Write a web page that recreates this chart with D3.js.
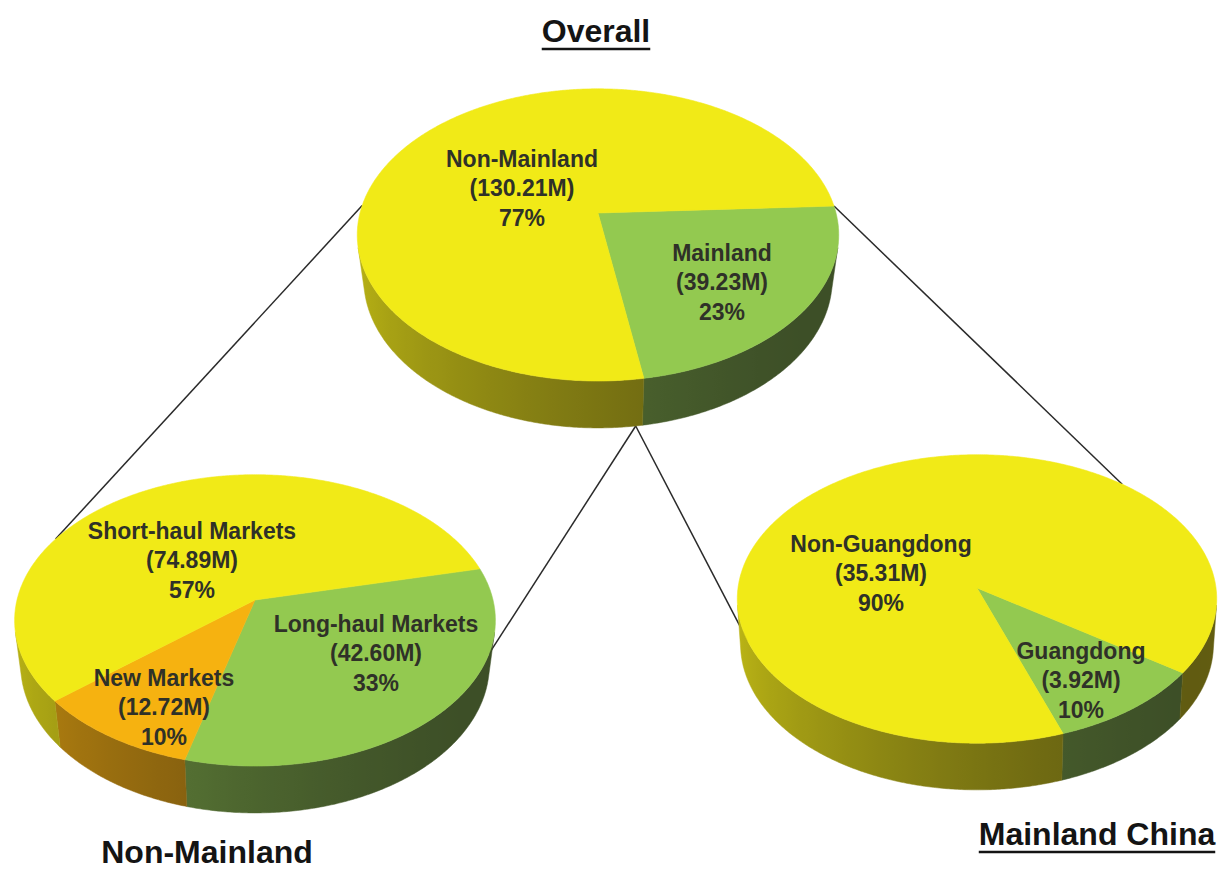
<!DOCTYPE html>
<html><head><meta charset="utf-8">
<script src="https://cdn.jsdelivr.net/npm/d3@7"></script>
<style>body{margin:0;background:#fff}</style>
</head><body>
<svg id="chart" width="1222" height="869"></svg>
<script>
// ---------------- data ----------------
const overallCategories = ["Mainland", "Non-Mainland"];
const overallValues = [39.23, 130.21];
const overallPercents = ["23%", "77%"];

const nonMainlandCategories = ["Long-haul Markets", "New Markets", "Short-haul Markets"];
const nonMainlandValues = [42.60, 12.72, 74.89];
const nonMainlandPercents = ["33%", "10%", "57%"];

const mainlandCategories = ["Guangdong", "Non-Guangdong"];
const mainlandValues = [3.92, 35.31];
const mainlandPercents = ["10%", "90%"];

const chartTitles = ["Overall", "Non-Mainland", "Mainland China"];

// ---------------- style / layout ----------------
const YELLOW = "#f1ea17", GREEN = "#93c950", ORANGE = "#f6b210";
const sinT = 0.6, cosT = 0.8, depth = 0.24;
const deg = Math.PI / 180;

const pies = [
  { cats: overallCategories, vals: overallValues, pcts: overallPercents,
    colors: [GREEN, YELLOW], start: -2.8, cx: 598, cy: 213, rx: 238, k: 0.15,
    labels: [[124, 69], [-76, -25]] },
  { cats: nonMainlandCategories, vals: nonMainlandValues, pcts: nonMainlandPercents,
    colors: [GREEN, ORANGE, YELLOW], start: -13, cx: 255, cy: 600, rx: 238, k: 0.14,
    labels: [[121, 53], [-91, 107], [-63, -40]] },
  { cats: mainlandCategories, vals: mainlandValues, pcts: mainlandPercents,
    colors: [GREEN, YELLOW], start: 34.5, cx: 977, cy: 588, rx: 239, k: 0.076,
    labels: [[104, 92], [-96, -15]] }
];

// connectors: [pieIndex, phi(deg), level(0 top / 1 bottom)]
const connectors = [
  [[0, 183, 0], [1, 207, 0]],
  [[0, 82, 1], [1, 21, 0]],
  [[0, 82, 1], [2, 159, 0]],
  [[0, -2.8, 0], [2, -50, 0]]
];

const svg = d3.select("#chart");
const defs = svg.append("defs");

function proj(p, X, Z, Yh) {
  const Dn = cosT / p.k, F = p.rx * Dn;
  const cz = Z * cosT + Yh * sinT;
  const cyUp = Yh * cosT - Z * sinT;
  return [p.cx + F * X / (Dn - cz), p.cy - F * cyUp / (Dn - cz)];
}
function rim(p, phi, level) {
  return proj(p, Math.cos(phi), Math.sin(phi), level ? -depth : 0);
}
function shade(base, phi) {
  const b = 0.6 - 0.22 * Math.cos(phi - 30 * deg);
  const c = d3.rgb(base);
  return d3.rgb(c.r * b + 8 * (1 - b), c.g * b + 4 * (1 - b), c.b * b + 14 * (1 - b)).formatHex();
}

const line = d3.line();
const fmt = d3.format(".2f");

// connectors first
svg.append("g").selectAll("line").data(connectors).join("line")
  .attr("x1", d => rim(pies[d[0][0]], d[0][1] * deg, d[0][2])[0])
  .attr("y1", d => rim(pies[d[0][0]], d[0][1] * deg, d[0][2])[1])
  .attr("x2", d => rim(pies[d[1][0]], d[1][1] * deg, d[1][2])[0])
  .attr("y2", d => rim(pies[d[1][0]], d[1][1] * deg, d[1][2])[1])
  .attr("stroke", "#2a2a2a").attr("stroke-width", 1.5);

pies.forEach((p, pi) => {
  const pieGen = d3.pie().sort(null).value(d => d)
    .startAngle(p.start * deg + Math.PI / 2)
    .endAngle(p.start * deg + Math.PI / 2 + 2 * Math.PI);
  const arcs = pieGen(p.vals).map((a, i) => ({
    ...a, i, phi0: a.startAngle - Math.PI / 2, phi1: a.endAngle - Math.PI / 2,
    color: p.colors[i]
  }));
  const g = svg.append("g");
  const vmin = Math.asin(Math.min(1, p.k / (cosT * cosT)));
  const vmax = Math.PI - vmin;

  // sides
  arcs.forEach((a, ai) => {
    [-2 * Math.PI, 0, 2 * Math.PI].forEach((off, oi) => {
      const lo = Math.max(a.phi0, vmin + off), hi = Math.min(a.phi1, vmax + off);
      if (hi <= lo) return;
      const n = Math.max(4, Math.ceil((hi - lo) / (0.5 * deg)));
      const phis = d3.range(n + 1).map(j => lo + (hi - lo) * j / n);
      const top = phis.map(f => rim(p, f, 0));
      const bot = phis.slice().reverse().map(f => rim(p, f, 1));
      const id = `g${pi}_${ai}_${oi}`;
      const x1 = top[0][0], x2 = top[top.length - 1][0];
      const grad = defs.append("linearGradient").attr("id", id)
        .attr("gradientUnits", "userSpaceOnUse")
        .attr("x1", x1).attr("x2", x2).attr("y1", 0).attr("y2", 0);
      phis.forEach((f, j) => {
        if (j % 4 !== 0 && j !== n) return;
        grad.append("stop")
          .attr("offset", Math.max(0, Math.min(1, (top[j][0] - x1) / (x2 - x1))))
          .attr("stop-color", shade(a.color, f));
      });
      g.append("path").attr("d", line(top.concat(bot)) + "Z")
        .attr("fill", `url(#${id})`).attr("stroke", `url(#${id})`).attr("stroke-width", 0.5);
    });
  });

  // top faces
  arcs.forEach(a => {
    const n = Math.max(4, Math.ceil((a.phi1 - a.phi0) / (0.5 * deg)));
    const pts = [proj(p, 0, 0, 0)].concat(
      d3.range(n + 1).map(j => rim(p, a.phi0 + (a.phi1 - a.phi0) * j / n, 0)));
    g.append("path").attr("d", line(pts) + "Z")
      .attr("fill", a.color).attr("stroke", a.color).attr("stroke-width", 0.6);
  });

  // labels
  arcs.forEach((a, i) => {
    const [dx, dy] = p.labels[i];
    const lines = [p.cats[i], "(" + fmt(p.vals[i]) + "M)", p.pcts[i]];
    g.append("g").selectAll("text").data(lines).join("text")
      .attr("x", p.cx + dx)
      .attr("y", (d, j) => p.cy + dy + 8 + (j - 1) * 29.5)
      .attr("text-anchor", "middle")
      .attr("font-family", "'Liberation Sans', Arial, sans-serif")
      .attr("font-weight", "bold").attr("font-size", 23)
      .attr("fill", "#2f3128")
      .text(d => d);
  });
});

// titles
const titleLayout = [
  { x: 596, y: 42, underline: true },
  { x: 207, y: 863, underline: false },
  { x: 1097, y: 845, underline: true }
];
chartTitles.forEach((t, i) => {
  const L = titleLayout[i];
  const txt = svg.append("text").attr("x", L.x).attr("y", L.y)
    .attr("text-anchor", "middle")
    .attr("font-family", "'Liberation Sans', Arial, sans-serif")
    .attr("font-weight", "bold").attr("font-size", 32)
    .attr("fill", "#141414").text(t);
  if (L.underline) {
    const w = txt.node().getComputedTextLength();
    svg.append("line").attr("x1", L.x - w / 2).attr("x2", L.x + w / 2)
      .attr("y1", L.y + 7).attr("y2", L.y + 7)
      .attr("stroke", "#141414").attr("stroke-width", 2.5);
  }
});
</script>
</body></html>
